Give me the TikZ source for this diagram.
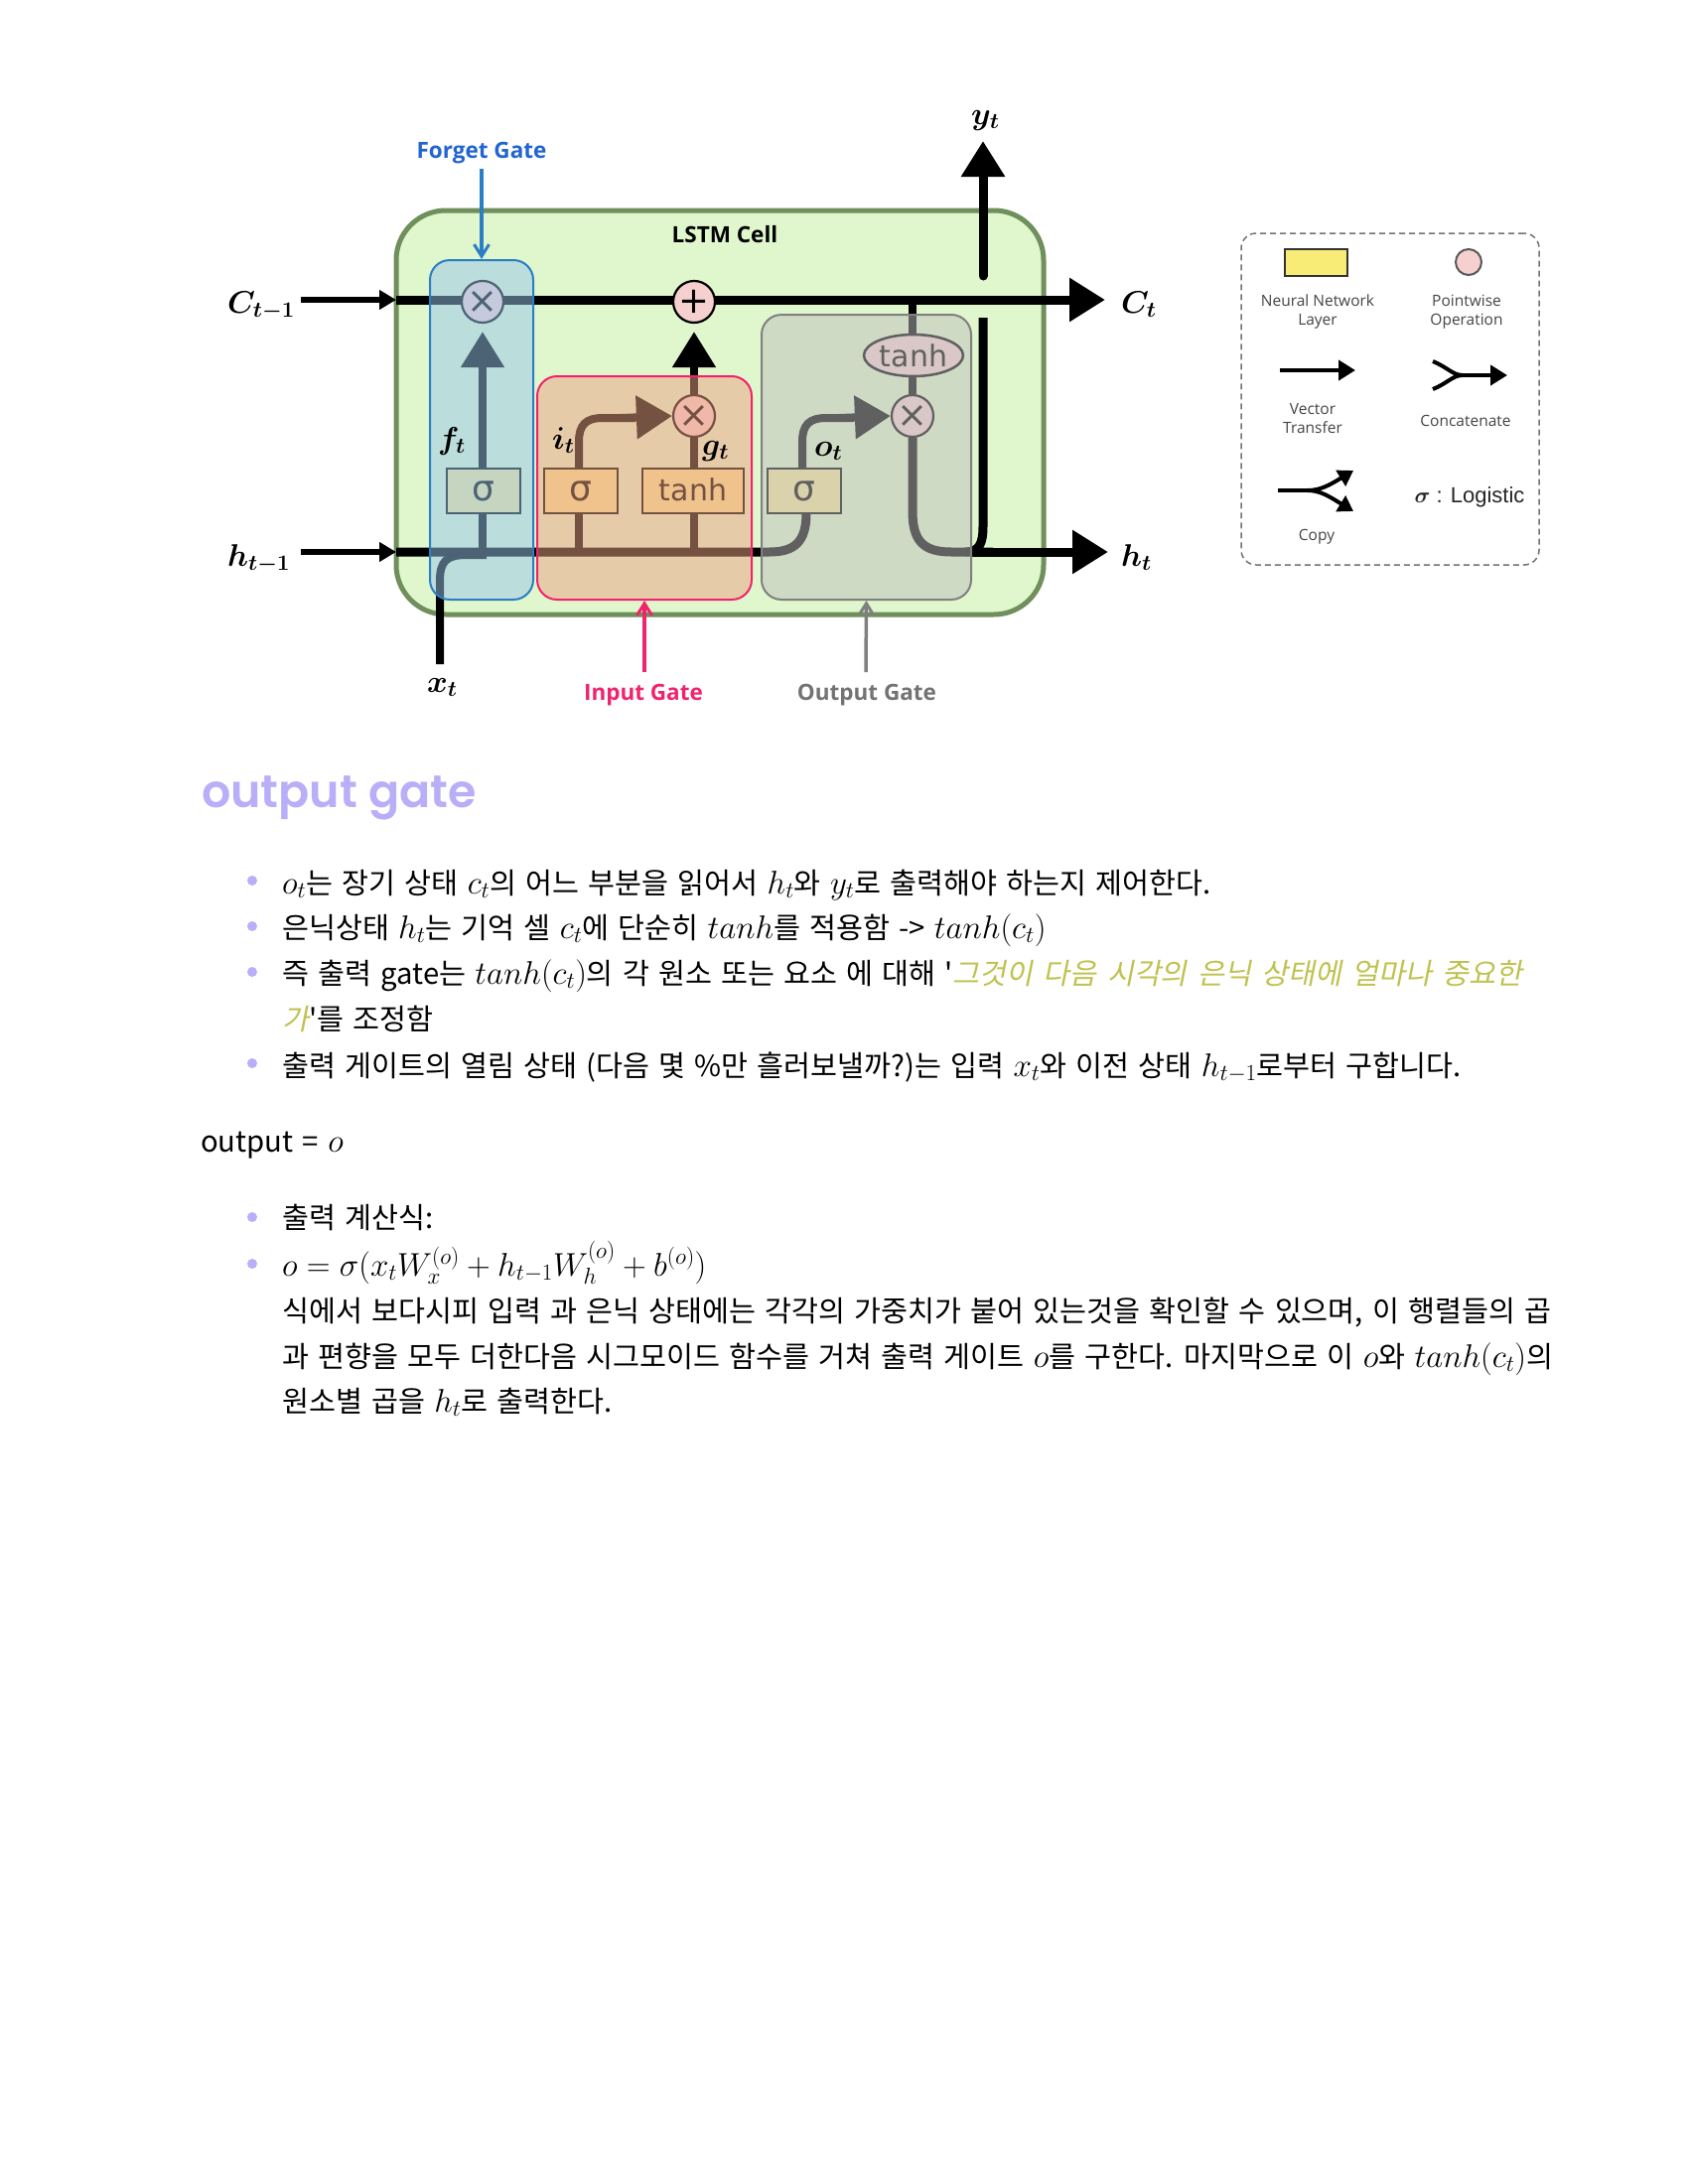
\RequirePackage{fix-cm}
\documentclass[tikz,border=0pt]{standalone}
\usepackage[no-math]{fontspec}
\usepackage{amsmath}
\usepackage{bm}
\usetikzlibrary{arrows.meta,shapes.geometric}
\setmainfont[WordSpace=1.4]{Noto Sans CJK KR}
\newfontfamily\koslant[FakeSlant=0.2,WordSpace=1.55]{Noto Sans CJK KR}
\newfontfamily\headfont{Poppins SemiBold}
\newfontfamily\djv{DejaVu Sans}
\newfontfamily\opensans{Open Sans}
\newfontfamily\libsans{Liberation Sans}
\definecolor{cellfill}{HTML}{E0F6CC}
\definecolor{cellline}{HTML}{6F8F5C}
\definecolor{fcol}{RGB}{151,198,235}
\definecolor{icol}{RGB}{234,162,132}
\definecolor{ocol}{RGB}{192,192,192}
\definecolor{fline}{HTML}{2A7FC4}
\definecolor{iline}{HTML}{F0246E}
\definecolor{oline}{HTML}{808080}
\definecolor{nnfill}{RGB}{246,230,148}
\definecolor{opfill}{HTML}{F6CFCF}
\definecolor{accent}{HTML}{B9AEF8}
\definecolor{golden}{HTML}{BFC24F}
\definecolor{legtxt}{HTML}{444444}
\pgfdeclarelayer{cell}\pgfdeclarelayer{lines}\pgfdeclarelayer{over}\pgfdeclarelayer{toplabels}
\pgfsetlayers{cell,lines,main,over,toplabels}
\newcommand\mm[1]{{\fontsize{33}{36}\selectfont$#1$}}
\newcommand\bl[1]{{\fontsize{31.5}{36}\selectfont$\bm{#1}$}}
\tikzset{
  x=1pt,y=-1pt,
  heavy/.style={line width=9pt},
  mid/.style={line width=8pt},
  thin in/.style={line width=6pt,-{Triangle[length=17pt,width=19pt]}},
  big tip/.style={-{Triangle[length=36pt,width=42pt]}},
  opc/.style={circle,draw=black,line width=2.2pt,fill=opfill,minimum size=42pt,inner sep=0pt,font=\fontsize{37}{37}\selectfont\djv},
  nn/.style={draw=black,line width=2.5pt,fill=nnfill,minimum height=45pt,inner sep=0pt,font=\fontsize{36}{36}\selectfont\djv},
  gatebox/.style={rounded corners=20pt,line width=2pt,fill opacity=.5,draw opacity=1,inner sep=0pt},
  glabel/.style={font=\fontsize{22.5}{26}\selectfont\opensans\bfseries,inner sep=0pt},
  garrow/.style={line width=3.5pt,-{Straight Barb[length=12pt,width=15pt,line width=3pt]}},
  legtext/.style={font=\fontsize{15.5}{19}\selectfont\opensans,text=legtxt,inner sep=0pt,align=center,text depth=0pt},
  legarrow/.style={line width=4pt,-{Triangle[length=17pt,width=20pt]}},
  mlabel/.style={anchor=base west,inner sep=0pt},
  body/.style={anchor=base west,inner sep=0pt,font=\fontsize{29.3}{34}\selectfont},
  bullet/.style={circle,fill=accent,minimum size=10pt,inner sep=0pt},
}
\begin{document}
\begin{tikzpicture}
\useasboundingbox (0,0) rectangle (1700,2200);
\begin{pgfonlayer}{cell}
\fill[white] (0,0) rectangle (1700,2200);
\end{pgfonlayer}
% coordinates
\coordinate (cIn) at (303,302); \coordinate (cEnter) at (399,302); \coordinate (cOut) at (1113,302);
\coordinate (hIn) at (303,556); \coordinate (hEnter) at (399,556); \coordinate (hOut) at (1116,556);
\coordinate (xIn) at (443,669); \coordinate (yBase) at (990,278); \coordinate (yTip) at (990,142);
\coordinate (yLow) at (990,320);
% nodes
\node[opc] (mulF) at (486,304) {×};
\node[opc] (addC) at (699,304) {+};
\node[opc] (mulI) at (699,419) {×};
\node[opc] (mulO) at (919,419) {×};
\node[ellipse,draw=black,line width=2.5pt,fill=opfill,minimum width=100pt,minimum height=42pt,inner sep=0pt,font=\fontsize{30}{30}\selectfont\djv] (tanhE) at (920,358) {tanh};
\node[nn,minimum width=74pt] (sigF) at (487,494.5) {σ};
\node[nn,minimum width=74pt] (sigI) at (585,494.5) {σ};
\node[nn,minimum width=102pt,font=\fontsize{30}{30}\selectfont\djv] (tanhB) at (698,494.5) {\raisebox{2pt}{tanh}};
\node[nn,minimum width=74pt] (sigO) at (810,494.5) {σ};
% cell
\begin{pgfonlayer}{cell}
\node[draw=cellline,fill=cellfill,line width=5pt,rounded corners=50pt,minimum width=652pt,minimum height=407pt,inner sep=0pt] (cellBox) at (725,415.5) {};
\end{pgfonlayer}
% connectors
\begin{pgfonlayer}{lines}
\draw[thin in] (cIn) -- (cEnter);
\draw[thin in] (hIn) -- (hEnter);
\draw[heavy,big tip] (cEnter) -- (cOut);
\draw[heavy] (hEnter) -- (775,556) .. controls (800,556) and (812,546) .. (812,517);
\draw[mid] (808,472) -- (808,445) .. controls (808,428) and (815,421) .. (832,421) -- (860,421);
\draw[mid,big tip] (845,421) -- (mulO.west);
\draw[mid,big tip,shorten >=8pt] (mulF |- sigF.north) -- (mulF.south);
\draw[mid] (mulF |- sigF.south) -- (mulF |- hEnter);
\draw[mid] (583,517) -- (583,556);
\draw[mid] (tanhB.south -| mulI) -- (mulI |- hEnter);
\draw[mid] (583,472) -- (583,445) .. controls (583,428) and (590,421) .. (607,421) -- (640,421);
\draw[mid,big tip] (625,421) -- (mulI.west);
\draw[mid] (mulI |- tanhB.north) -- (mulI.south);
\draw[mid,big tip,shorten >=8pt] (mulI.north) -- (addC.south);
\draw[mid] (mulO |- cEnter) -- (mulO |- tanhE.north);
\draw[mid] (mulO |- tanhE.south) -- (mulO.north);
\draw[heavy] (mulO.south) -- (919,515) .. controls (919,545) and (930,556) .. (958,556) -- (1000,556);
\draw[heavy,big tip] (978,556) -- (hOut);
\draw[line width=9pt] (yLow) -- (990,530) .. controls (990,548) and (986,556) .. (972,556);
\draw[heavy,line cap=round] (yBase) -- (990,180);
\draw[heavy,big tip] (990,200) -- (yTip);
\draw[mid] (xIn) -- (443,585) .. controls (443,565) and (450,559) .. (470,559) -- (490,559);
\end{pgfonlayer}
% gate overlays
\begin{pgfonlayer}{over}
\node[gatebox,draw=fline,fill=fcol,minimum width=104pt,minimum height=342pt] (forgetBox) at (485,433) {};
\node[gatebox,draw=iline,fill=icol,minimum width=216pt,minimum height=225pt] (inputBox) at (649,491.5) {};
\node[gatebox,draw=oline,fill=ocol,minimum width=211pt,minimum height=287pt] (outputBox) at (872.5,460.5) {};
\end{pgfonlayer}
% labels
\begin{pgfonlayer}{toplabels}
\node[mlabel] (lCin) at (229,315) {\bl{C_{t-1}}};
\node[mlabel] (lHin) at (229,570) {\bl{h_{t-1}}};
\node[mlabel] (lX) at (430,697) {\bl{x_t}};
\node[mlabel] (lF) at (441,452) {\bl{f_t}};
\node[mlabel] (lI) at (556,452) {\bl{i_t}};
\node[mlabel] (lG) at (707,458) {\bl{g_t}};
\node[mlabel] (lO) at (820,459) {\bl{o_t}};
\node[mlabel] (lY) at (978,125) {\bl{y_t}};
\node[mlabel] (lC) at (1129,315) {\bl{C_t}};
\node[mlabel] (lH) at (1129,570) {\bl{h_t}};
\node[glabel,text=fline!80!blue] (forgetL) at (485,154) {Forget Gate};
\node[glabel,text=black] (cellL) at (730,236) {LSTM Cell};
\node[glabel,text=iline] (inputL) at (648,700) {Input Gate};
\node[glabel,text=oline!90!black] (outputL) at (873,700) {Output Gate};
\coordinate (fStart) at (485,170);\coordinate (iStart) at (649,677);\coordinate (oStart) at (872,677);
\draw[garrow,draw=fline] (fStart) -- (forgetBox.north);
\draw[garrow,draw=iline] (iStart) -- (inputBox.south);
\draw[garrow,draw=oline] (oStart) -- (outputBox.south);
\end{pgfonlayer}
% legend
\node[draw=black!55,dash pattern=on 6pt off 4pt,line width=1.5pt,rounded corners=15pt,minimum width=300pt,minimum height=334pt,inner sep=0pt] (legendBox) at (1400,402) {};
\node[draw=black!80,fill=nnfill!80!yellow,line width=2pt,minimum width=63pt,minimum height=27pt,inner sep=0pt] (legNN) at (1325.5,264.5) {};
\node[circle,draw=black!65,fill=opfill,line width=2pt,minimum size=26pt,inner sep=0pt] (legOp) at (1479,264) {};
\node[legtext] (tNN) at (1327,312.5) {Neural Network\\Layer};
\node[legtext] (tOp) at (1477,312.5) {Pointwise\\Operation};
\node[legtext] (tVec) at (1322,421.5) {Vector\\Transfer};
\node[legtext] (tCon) at (1476,424) {Concatenate};
\node[legtext] (tCopy) at (1326,539) {Copy};
\node[inner sep=0pt,font=\fontsize{22}{26}\selectfont\libsans,text=black!85] (tLog) at (1480,501) {$\bm{\sigma}$ : Logistic};
\coordinate (vA) at (1289,373);\coordinate (vB) at (1365,373);
\draw[legarrow] (vA) -- (vB);
\coordinate (cA) at (1443,364);\coordinate (cB) at (1443,392);\coordinate (cM) at (1473,378);\coordinate (cT) at (1518,378);
\draw[line width=4pt] (cA) .. controls (1458,370) and (1463,378) .. (cM);
\draw[line width=4pt] (cB) .. controls (1458,386) and (1463,378) .. (cM);
\draw[legarrow] (cM) -- (cT);
\coordinate (pA) at (1287,494);\coordinate (pM) at (1317,494);\coordinate (pU) at (1363,474);\coordinate (pD) at (1363,515);
\draw[line width=4pt] (pA) -- (pM);
\draw[legarrow,-{Triangle[length=15pt,width=18pt]}] (pM) .. controls (1330,494) and (1340,488) .. (pU);
\draw[legarrow,-{Triangle[length=15pt,width=18pt]}] (pM) .. controls (1330,494) and (1340,501) .. (pD);
% text
\node[anchor=base west,inner sep=0pt,font=\fontsize{46}{50}\selectfont\headfont,text=accent] (head) at (203,813) {output gate};
\foreach \n/\y in {b1/887,b2/933,b3/979,b4/1071,b5/1226,b6/1273} \node[bullet] (\n) at (254,\y) {};
\node[body] (t1) at (284,900) {\mm{o_t}는 장기 상태 \mm{c_t}의 어느 부분을 읽어서 \mm{h_t}와 \mm{y_t}로 출력해야 하는지 제어한다.};
\node[body] (t2) at (284,945) {은닉상태 \mm{h_t}는 기억 셀 \mm{c_t}에 단순히 \mm{tanh}를 적용함 -> \mm{tanh(c_t)}};
\node[body] (t3) at (284,991) {즉 출력 gate는 \mm{tanh(c_t)}의 각 원소 또는 요소 에 대해 \textquotesingle{\koslant\color{golden}그것이 다음 시각의 은닉 상태에 얼마나 중요한}};
\node[body] (t3b) at (284,1037) {{\koslant\color{golden}가}\textquotesingle 를 조정함};
\node[body] (t4) at (284,1084) {출력 게이트의 열림 상태 (다음 몇 \%만 흘러보낼까?)는 입력 \mm{x_t}와 이전 상태 \mm{h_{t-1}}로부터 구합니다.};
\node[body] (t5) at (202,1160) {output = \mm{o}};
\node[body] (t6) at (284,1237) {출력 계산식:};
\node[body] (t7) at (284,1285) {\mm{o=\sigma(x_tW_x^{(o)}+h_{t-1}W_h^{(o)}+b^{(o)})}};
\node[body] (t8) at (284,1331) {식에서 보다시피 입력 과 은닉 상태에는 각각의 가중치가 붙어 있는것을 확인할 수 있으며, 이 행렬들의 곱};
\node[body] (t9) at (284,1377) {과 편향을 모두 더한다음 시그모이드 함수를 거쳐 출력 게이트 \mm{o}를 구한다. 마지막으로 이 \mm{o}와 \mm{tanh(c_t)}의};
\node[body] (t10) at (284,1422) {원소별 곱을 \mm{h_t}로 출력한다.};
\end{tikzpicture}
\end{document}
